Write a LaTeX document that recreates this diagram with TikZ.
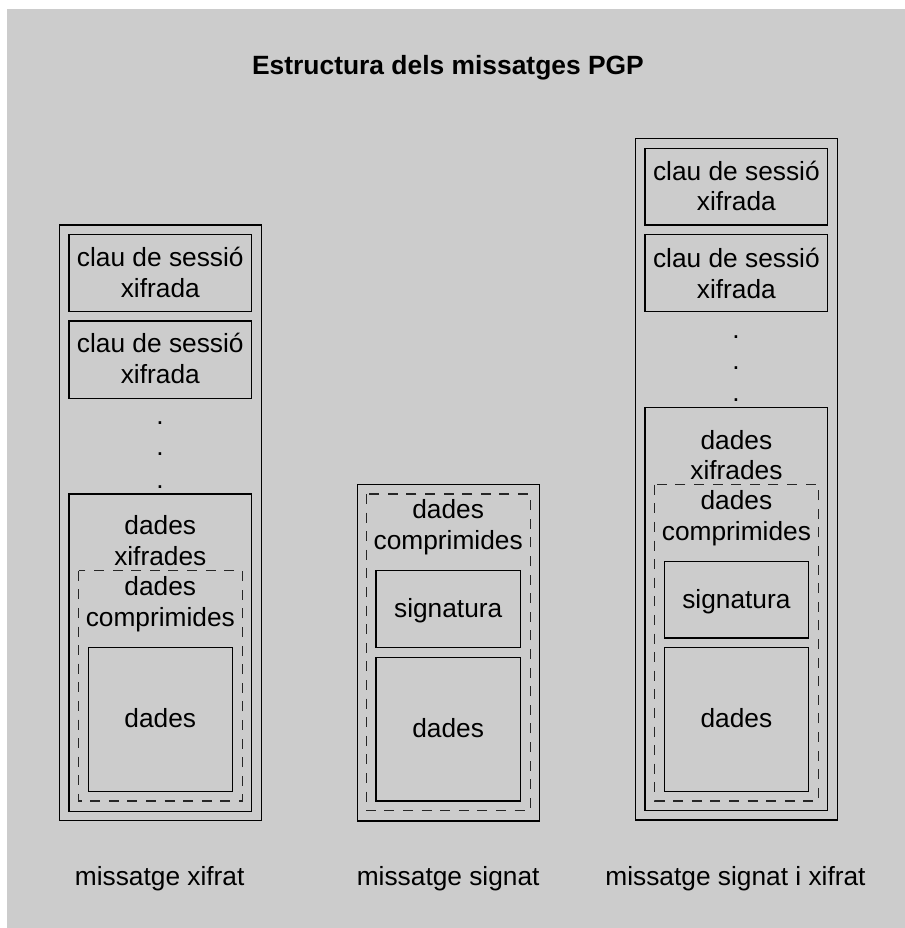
\documentclass[tikz,border=0pt]{standalone}
\usepackage{fontspec}
\setmainfont{Liberation Sans}
\definecolor{bggray}{RGB}{204,204,204}
\begin{document}
\begin{tikzpicture}[x=0.5pt,y=-0.5pt,
  box/.style={draw=black,line width=0.6pt},
  dbox/.style={draw=black!85,line width=0.6pt,dash pattern=on 5pt off 4.3pt},
  lbl/.style={align=center,inner sep=0pt,yshift=-1.5pt,font=\fontsize{13.15}{15.3}\selectfont},
  dotlbl/.style={anchor=base,inner sep=0pt,yshift=-1.7pt,font=\fontsize{13.15}{15.3}\selectfont},
  captxt/.style={anchor=base,inner sep=0pt,font=\fontsize{13.15}{15.3}\selectfont}]
\useasboundingbox (0,0) rectangle (905,928);
\fill[white] (0,0) rectangle (905,928);
\fill[bggray] (7,9) rectangle (905,928);

% title
\node[anchor=base,inner sep=0pt,font=\fontsize{13.2}{15.3}\selectfont\bfseries] (title) at (448,74) {Estructura dels missatges PGP};

% ---------- left: missatge xifrat
\draw[box] (59.3,225) rectangle (261.3,820.7);
\draw[box] (69,234.3) rectangle (251.7,311.7);
\node[lbl] (lk1) at (160.3,269.4) {clau de sessió\\xifrada};
\draw[box] (69,321) rectangle (251.7,398.3);
\node[lbl] (lk2) at (160.3,355.2) {clau de sessió\\xifrada};
\node[dotlbl] (ld1) at (160,420.7) {.};
\node[dotlbl] (ld2) at (160,452.1) {.};
\node[dotlbl] (ld3) at (160,484.7) {.};
\draw[box] (69,494) rectangle (251.7,811.7);
\node[lbl] (lx) at (160.3,537.7) {dades\\xifrades};
\draw[dbox] (78.7,570.7) rectangle (242.3,801);
\node[lbl] (lc) at (160.3,601.3) {dades\\comprimides};
\draw[box] (88.3,647.7) rectangle (232.3,791.7);
\node[lbl] (ld) at (160.3,715.2) {dades};
\node[captxt] (lcap) at (159.7,885.7) {missatge xifrat};

% ---------- middle: missatge signat
\draw[box] (357.3,484.3) rectangle (539.3,821);
\draw[dbox] (366.3,494) rectangle (530.3,810.7);
\node[lbl] (mc) at (448.2,524) {dades\\comprimides};
\draw[box] (376,570.7) rectangle (520.3,647.7);
\node[lbl] (ms) at (448.2,608) {signatura};
\draw[box] (376,657.3) rectangle (520.3,801);
\node[lbl] (md) at (448.2,725.2) {dades};
\node[captxt] (mcap) at (448.2,885.7) {missatge signat};

% ---------- right: missatge signat i xifrat
\draw[box] (635.3,138.3) rectangle (837.3,820);
\draw[box] (645,148.3) rectangle (827.7,225);
\node[lbl] (rk1) at (736.4,183) {clau de sessió\\xifrada};
\draw[box] (645,234.3) rectangle (827.7,311.7);
\node[lbl] (rk2) at (736.4,270.5) {clau de sessió\\xifrada};
\node[dotlbl] (rd1) at (736,334.7) {.};
\node[dotlbl] (rd2) at (736,366.4) {.};
\node[dotlbl] (rd3) at (736,398.1) {.};
\draw[box] (645,407.7) rectangle (827.7,810.7);
\node[lbl] (rx) at (736.4,452) {dades\\xifrades};
\draw[dbox] (654.7,484.7) rectangle (818.7,801);
\node[lbl] (rc) at (736.4,515) {dades\\comprimides};
\draw[box] (664.3,561.7) rectangle (808.3,638);
\node[lbl] (rs) at (736.4,598.3) {signatura};
\draw[box] (664.3,647.7) rectangle (808.3,791.7);
\node[lbl] (rdd) at (736.4,715.5) {dades};
\node[captxt] (rcap) at (735.5,885.7) {missatge signat i xifrat};
\end{tikzpicture}
\end{document}
